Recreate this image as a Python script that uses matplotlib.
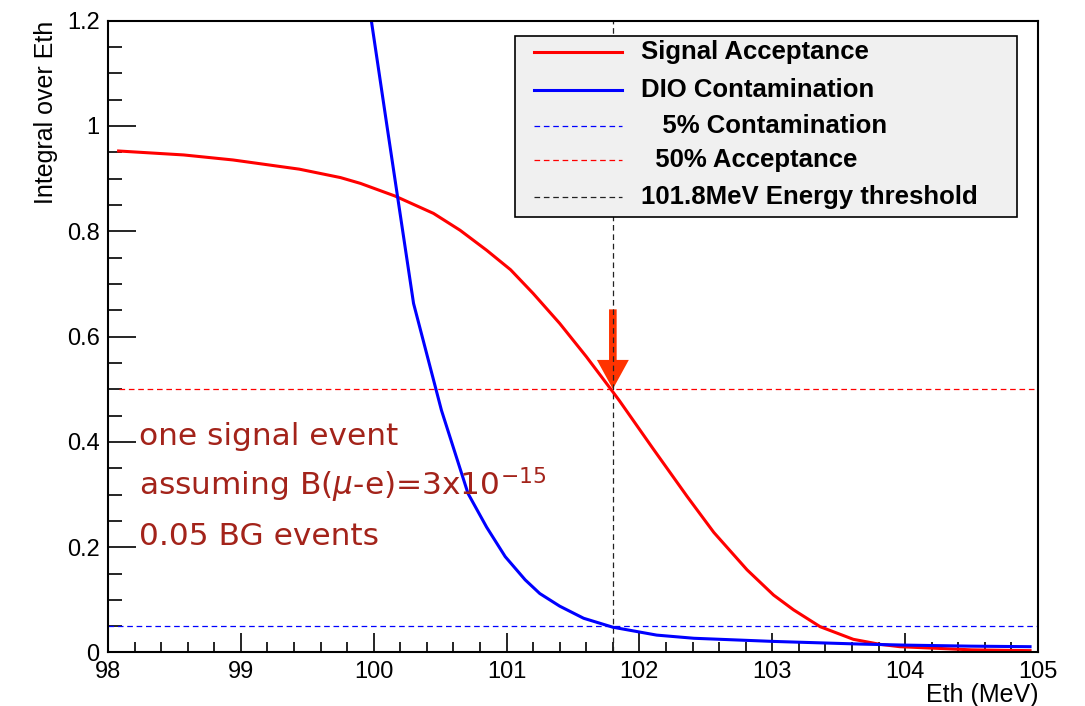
#!/usr/bin/env python3

import matplotlib
matplotlib.use("Agg")
import matplotlib.pyplot as plt
from matplotlib.patches import Rectangle, FancyArrowPatch
from matplotlib.ticker import MultipleLocator

plt.rcParams['font.family'] = ['Liberation Sans', 'DejaVu Sans']
plt.rcParams['mathtext.fontset'] = 'dejavusans'

# Signal acceptance vs energy threshold
sig_x = [98.08, 98.57, 98.94, 99.44, 99.75, 99.9, 100.16, 100.45, 100.65, 100.85,
         101.03, 101.2, 101.4, 101.6, 101.8, 101.85, 102.1, 102.36, 102.56,
         102.81, 103.01, 103.16, 103.36, 103.61, 103.81, 103.96, 104.5, 104.94]
sig_y = [0.9525, 0.945, 0.9355, 0.918, 0.902, 0.891, 0.867, 0.834, 0.802, 0.764,
         0.727, 0.682, 0.625, 0.562, 0.495, 0.478, 0.388, 0.296, 0.228,
         0.157, 0.109, 0.081, 0.049, 0.025, 0.0155, 0.011, 0.005, 0.0035]

# DIO contamination vs energy threshold
dio_x = [99.9, 100.1, 100.3, 100.51, 100.71, 100.85, 100.99, 101.14, 101.25,
         101.4, 101.58, 101.8, 102.13, 102.41, 103.01, 103.66, 104.0, 104.5, 104.94]
dio_y = [1.34, 1.0, 0.663, 0.46, 0.302, 0.238, 0.182, 0.138, 0.112,
         0.088, 0.065, 0.048, 0.033, 0.027, 0.021, 0.016, 0.014, 0.012, 0.011]

contamination_level = 0.05
acceptance_level = 0.5
threshold = 101.8

legend_labels = ["Signal Acceptance", "DIO Contamination", "   5% Contamination",
                 "  50% Acceptance", "101.8MeV Energy threshold"]
note_lines = ["one signal event",
              r"assuming B($\mu$-e)=3x10$^{\mathrm{-15}}$",
              "0.05 BG events"]

fig = plt.figure(figsize=(10.85, 7.06), dpi=100)
ax = fig.add_axes([0.0995, 0.0758, 0.8572, 0.8949])

dash = (0, (4.5, 3))
ax.axhline(contamination_level, color="blue", lw=0.9, ls=dash)
ax.hlines(acceptance_level, sig_x[0], 105, color="red", lw=0.9, ls=dash)
ax.axvline(threshold, color="#222222", lw=0.9, ls=dash)

ax.plot(sig_x, sig_y, color="red", lw=2.2)
ax.plot(dio_x, dio_y, color="blue", lw=2.2)

# Arrow pointing at the 50% acceptance crossing
arrow = FancyArrowPatch((threshold, 0.657), (threshold, 0.495),
                        arrowstyle="simple,head_width=2.3,head_length=2.1,tail_width=0.55",
                        mutation_scale=10, color="#ff3300", lw=0)
ax.add_patch(arrow)

ax.set_xlim(98, 105)
ax.set_ylim(0, 1.2)
ax.xaxis.set_major_locator(MultipleLocator(1))
ax.xaxis.set_minor_locator(MultipleLocator(0.2))
ax.yaxis.set_minor_locator(MultipleLocator(0.05))
ax.set_yticks([0, 0.2, 0.4, 0.6, 0.8, 1.0, 1.2])
ax.set_yticklabels(["0", "0.2", "0.4", "0.6", "0.8", "1", "1.2"])
ax.tick_params(which="both", direction="in", top=False, right=False,
               labelsize=17, width=1.2)
ax.tick_params(axis="x", which="major", length=14, pad=6)
ax.tick_params(axis="x", which="minor", length=7)
ax.tick_params(axis="y", which="major", length=20, pad=6)
ax.tick_params(axis="y", which="minor", length=10)
for sp in ax.spines.values():
    sp.set_linewidth(1.5)

ax.set_xlabel("Eth (MeV)", fontsize=18, loc="right", labelpad=0)
ax.set_ylabel("Integral over Eth", fontsize=18, loc="top", labelpad=6)

# Legend box, drawn by hand in axes coordinates
x0, x1, y0, y1 = 0.4376, 0.977, 0.689, 0.9758
ax.add_patch(Rectangle((x0, y0), x1 - x0, y1 - y0, transform=ax.transAxes,
                       facecolor="#f0f0f0", edgecolor="black", lw=1.2, zorder=5))
handles = [("red", "-", 2.2), ("blue", "-", 2.2), ("blue", dash, 0.9),
           ("red", dash, 0.9), ("#222222", dash, 0.9)]
row_y = [0.9502, 0.8904, 0.8334, 0.7796, 0.7210]
for (c, s, w), lab, ry in zip(handles, legend_labels, row_y):
    ax.plot([0.4585, 0.5525], [ry, ry], color=c, ls=s, lw=w,
            transform=ax.transAxes, zorder=6)
    ax.text(0.5732, ry, lab, transform=ax.transAxes, fontsize=18.5,
            fontweight="bold", va="center", ha="left", zorder=6)

# Note in dark red
for line, yy in zip(note_lines, [0.394, 0.299, 0.204]):
    ax.text(98.233, yy, line, color="#a3231a", fontsize=22.5,
            family="DejaVu Sans", va="baseline")

plt.savefig("out.png", dpi=100)
